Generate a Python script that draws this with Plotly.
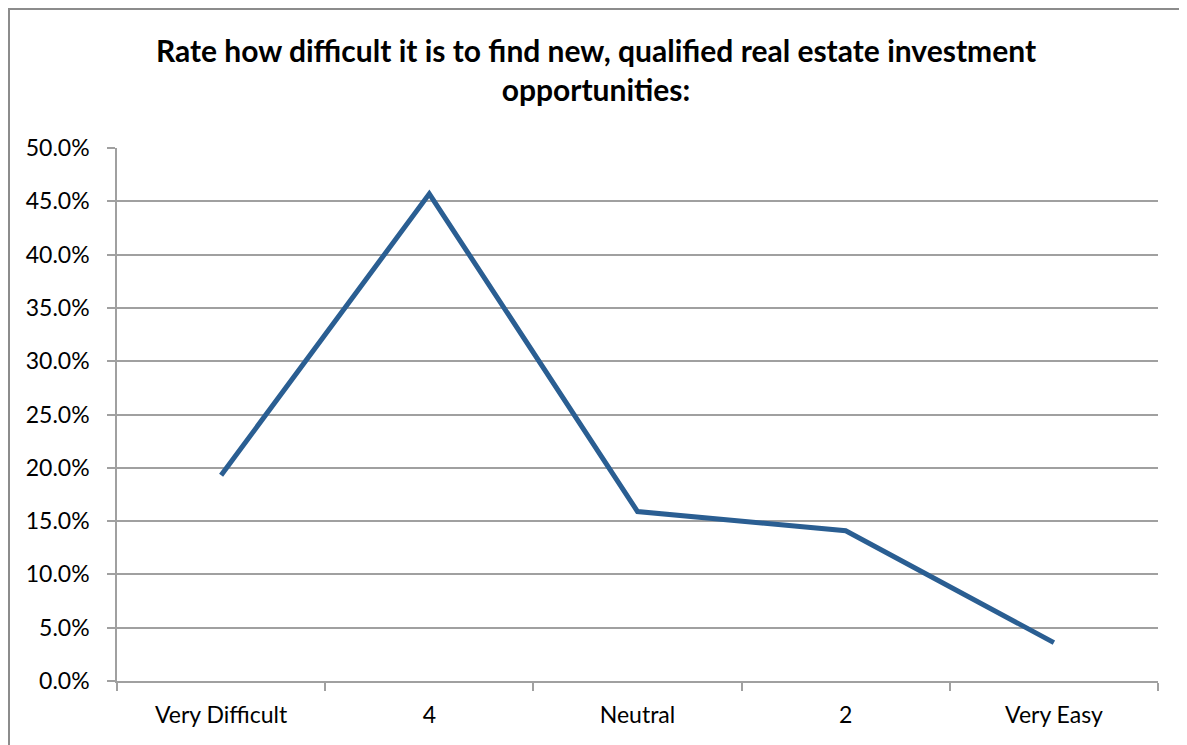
import plotly.graph_objects as go

categories = ["Very Difficult", "4", "Neutral", "2", "Very Easy"]
values = [0.193, 0.457, 0.159, 0.141, 0.036]
y_ticks = [0.0, 0.05, 0.10, 0.15, 0.20, 0.25, 0.30, 0.35, 0.40, 0.45, 0.50]
y_tick_labels = ["0.0%", "5.0%", "10.0%", "15.0%", "20.0%", "25.0%", "30.0%", "35.0%", "40.0%", "45.0%", "50.0%"]
title_text = "Rate how difficult it is to find new, qualified real estate investment<br>opportunities:"

W, H = 1187, 745
OFF = 8  # page body margin
L, R, T, B = 117 - OFF, 37, 148 - OFF, 72
pw = W - L - R
ph = H - T - B

fig = go.Figure()
fig.add_trace(go.Scatter(
    x=categories, y=values, mode="lines",
    line=dict(color="#2A5E92", width=5),
    showlegend=False,
))

gray = "#A0A0A0"
font_family = "Lato, 'Open Sans', sans-serif"

fig.update_layout(
    width=W, height=H,
    margin=dict(l=L, r=R, t=T, b=B),
    paper_bgcolor="white", plot_bgcolor="white",
    font=dict(family=font_family, size=23, color="black"),
    title=dict(
        text="<b>" + title_text + "</b>",
        x=(596 - OFF) / W, xanchor="center",
        y=1 - (62 - OFF) / H, yanchor="top",
        font=dict(family=font_family, size=30, color="black"),
    ),
    xaxis=dict(
        type="category", range=[-0.5, 4.5],
        tickson="boundaries", ticks="outside", ticklen=8, tickwidth=1.5, tickcolor=gray,
        showline=True, linecolor=gray, linewidth=1.5,
        showgrid=False,
        tickfont=dict(size=23),
        ticklabelstandoff=13,
    ),
    yaxis=dict(
        range=[0, 0.5],
        tickvals=y_ticks, ticktext=y_tick_labels,
        ticks="outside", ticklen=8, tickwidth=1.5, tickcolor=gray,
        showline=True, linecolor=gray, linewidth=1.5,
        showgrid=True, gridcolor=gray, gridwidth=1.5,
        zeroline=False,
        tickfont=dict(size=23),
        ticklabelstandoff=13,
    ),
    shapes=[dict(
        type="rect", xref="paper", yref="paper",
        x0=(1 - L) / pw, x1=(W + 20 - L) / pw,
        y0=-(H + 20 - T - ph) / ph, y1=1 + (T - 1) / ph,
        line=dict(color="#8C8C8C", width=2), fillcolor="rgba(0,0,0,0)",
        layer="below",
    )],
)

fig.write_html("out.html")
